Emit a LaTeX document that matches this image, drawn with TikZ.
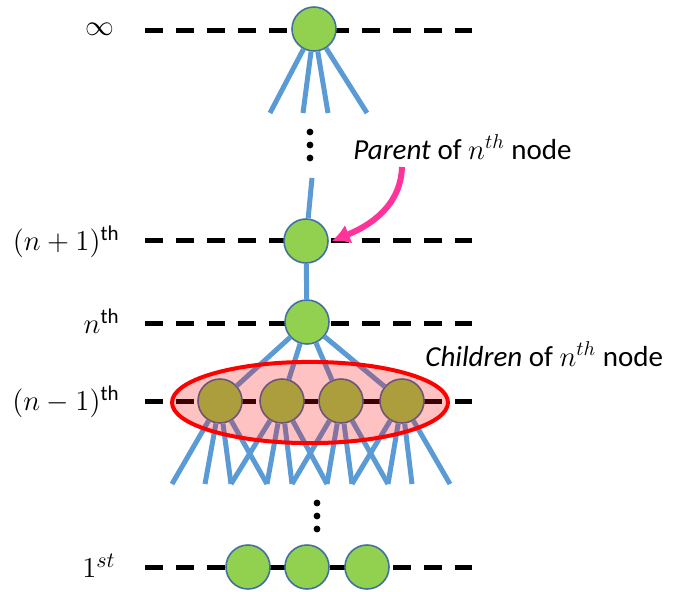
\documentclass[tikz,border=0pt]{standalone}
\usepackage{amsmath}
\usepackage{fontspec}
\setmainfont{Carlito}
\usetikzlibrary{arrows.meta}

\definecolor{leafgreen}{HTML}{92D050}
\definecolor{rimblue}{HTML}{41719C}
\definecolor{edgeblue}{HTML}{5B9BD5}
\definecolor{hotpink}{RGB}{255,51,153}

\begin{document}
\begin{tikzpicture}[x=0.5pt,y=-0.5pt,
    level/.style={line width=2.5pt,dash pattern=on 9pt off 6.5pt},
    edge/.style={draw=edgeblue,line width=2.5pt},
    tnode/.style={circle,draw=rimblue,fill=leafgreen,line width=0.8pt,
      minimum size=22pt,inner sep=0pt},
    lbl/.style={anchor=east,inner sep=0pt,font=\fontsize{15}{17}\selectfont},
    note/.style={anchor=base west,inner sep=0pt,font=\fontsize{14.5}{17}\selectfont}]
  \useasboundingbox (0,0) rectangle (680,591);
  % levels
  \draw[level] (145,30) -- (472,30);
  \draw[level] (145,240) -- (472,240);
  \draw[level] (145,323) -- (472,323);
  \draw[level] (145,401) -- (472,401);
  \draw[level] (145,567) -- (472,567);
  % nodes
  \node[tnode] (inf) at (314,29) {};
  \node[tnode] (np) at (306,241) {};
  \node[tnode] (nn) at (307,322) {};
  \node[tnode] (c1) at (220,401) {};
  \node[tnode] (c2) at (282,401) {};
  \node[tnode] (c3) at (341,401) {};
  \node[tnode] (c4) at (402,401) {};
  \node[tnode] (f1) at (248,567) {};
  \node[tnode] (f2) at (307,567) {};
  \node[tnode] (f3) at (367,567) {};
  \draw[line width=2.5pt] (f1) -- (f2) (f2) -- (f3);
  % free ends
  \coordinate (t1) at (270,113);
  \coordinate (t2) at (303,113);
  \coordinate (t3) at (328,113);
  \coordinate (t4) at (367,113);
  \coordinate (up) at (312,178);
  \coordinate (e1) at (172,484);
  \coordinate (e2) at (205,484);
  \coordinate (e3) at (231,484);
  \coordinate (e4) at (267,484);
  \coordinate (e5) at (292,484);
  \coordinate (e6) at (327,484);
  \coordinate (e7) at (352,484);
  \coordinate (e8) at (388,484);
  \coordinate (e9) at (412,484);
  \coordinate (e10) at (450,484);
  % edges
  \draw[edge] (inf) -- (t1) (inf) -- (t2) (inf) -- (t3) (inf) -- (t4);
  \draw[edge] (np) -- (up);
  \draw[edge] (np) -- (nn);
  \draw[edge] (nn) -- (c1) (nn) -- (c2) (nn) -- (c3) (nn) -- (c4);
  \draw[edge] (c1) -- (e1) (c1) -- (e2) (c1) -- (e3) (c1) -- (e4);
  \draw[edge] (c2) -- (e3) (c2) -- (e4) (c2) -- (e5) (c2) -- (e6);
  \draw[edge] (c3) -- (e5) (c3) -- (e6) (c3) -- (e7) (c3) -- (e8);
  \draw[edge] (c4) -- (e7) (c4) -- (e8) (c4) -- (e9) (c4) -- (e10);
  % children
  \draw[red,line width=2pt,fill=red,fill opacity=0.24]
    (310,402.5) ellipse [x radius=69pt,y radius=20.3pt];
  % dots
  \fill (310,132) circle (1.7pt);
  \fill (310,145) circle (1.7pt);
  \fill (310,158) circle (1.7pt);
  \fill (317,503) circle (1.7pt);
  \fill (317,516) circle (1.7pt);
  \fill (317,529) circle (1.7pt);
  % labels
  \node[lbl] (linf) at (115,29) {$\infty$};
  \node[lbl] (lnp) at (120,242) {$(n+1)^{\text{th}}$};
  \node[lbl] (lnn) at (120,321) {$n^{\text{th}}$};
  \node[lbl] (lnm) at (120,402) {$(n-1)^{\text{th}}$};
  \node[lbl] (lone) at (116,566) {$1^{st}$};
  \node[note] (parent) at (353,159) {\textit{Parent} of $n^{th}$ node};
  \node[note] (children) at (425,366) {\textit{Children} of $n^{th}$ node};
  \coordinate (ptail) at (402,167);
  \draw[hotpink,line width=3pt,-{Latex[length=9pt,width=10pt]}]
    (ptail) to[out=-92,in=22] ([xshift=1.5pt]np.east);
\end{tikzpicture}
\end{document}
